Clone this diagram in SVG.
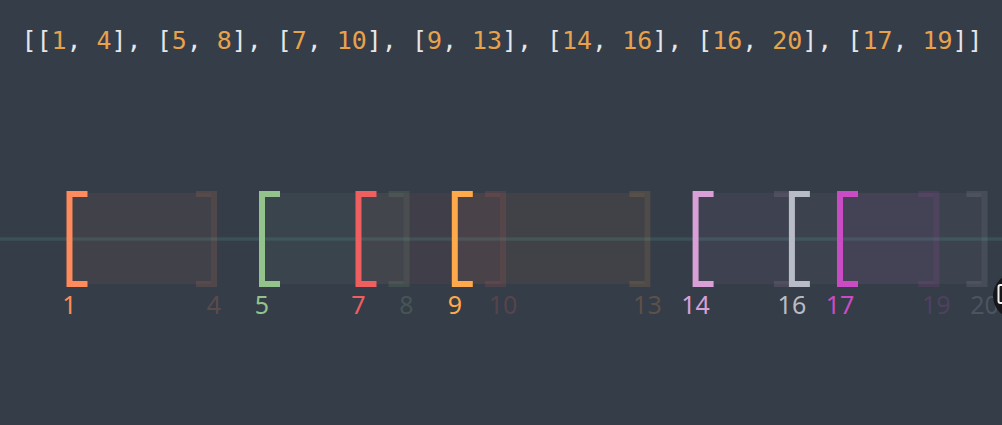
<svg xmlns="http://www.w3.org/2000/svg" width="1002" height="425" viewBox="0 0 1002 425">
<style>
.title{font-family:"DejaVu Sans Mono","Liberation Mono",monospace;font-size:24.95px;fill:#e4e6e8}
.num{fill:#e8a24c}
.lbl{font-family:"Noto Sans","Open Sans",sans-serif;font-size:25px;text-anchor:middle}
.lb{fill:none;stroke-width:6}
.rb{fill:none;stroke-width:6;stroke-opacity:0.13}
.band{fill-opacity:0.055}
.end{fill-opacity:0.2}
</style>
<rect width="1002" height="425" fill="#353d48"/>
<text class="title" x="21.5" y="48.5">[[<tspan class="num">1</tspan>, <tspan class="num">4</tspan>], [<tspan class="num">5</tspan>, <tspan class="num">8</tspan>], [<tspan class="num">7</tspan>, <tspan class="num">10</tspan>], [<tspan class="num">9</tspan>, <tspan class="num">13</tspan>], [<tspan class="num">14</tspan>, <tspan class="num">16</tspan>], [<tspan class="num">16</tspan>, <tspan class="num">20</tspan>], [<tspan class="num">17</tspan>, <tspan class="num">19</tspan>]]</text>
<g id="connectors">
<line x1="0" y1="239" x2="1002" y2="239" stroke="#3a5159" stroke-width="3.5"/>
</g>
<g id="iv1-4">
<rect class="band" x="72.5" y="193" width="138.5" height="91" fill="#ff8a5b"/>
<path class="lb" d="M87.5,194H69.5V284H87.5" stroke="#ff8a5b"/>
<path class="rb" d="M196,194H214V284H196" stroke="#ff8a5b"/>
<text class="lbl" x="69.5" y="313.5" fill="#ff8a5b">1</text>
<text class="lbl end" x="214" y="313.5" fill="#ff8a5b">4</text>
</g>
<g id="iv5-8">
<rect class="band" x="265" y="193" width="138.5" height="91" fill="#93c28d"/>
<path class="lb" d="M280,194H262V284H280" stroke="#93c28d"/>
<path class="rb" d="M388.5,194H406.5V284H388.5" stroke="#93c28d"/>
<text class="lbl" x="262" y="313.5" fill="#93c28d">5</text>
<text class="lbl end" x="406.5" y="313.5" fill="#93c28d">8</text>
</g>
<g id="iv7-10">
<rect class="band" x="361.5" y="193" width="138.5" height="91" fill="#ef5f5f"/>
<path class="lb" d="M376.5,194H358.5V284H376.5" stroke="#ef5f5f"/>
<path class="rb" d="M485,194H503V284H485" stroke="#ef5f5f"/>
<text class="lbl" x="358.5" y="313.5" fill="#ef5f5f">7</text>
<text class="lbl end" x="503" y="313.5" fill="#ef5f5f">10</text>
</g>
<g id="iv9-13">
<rect class="band" x="457.8" y="193" width="186.6" height="91" fill="#ffaa4a"/>
<path class="lb" d="M472.8,194H454.8V284H472.8" stroke="#ffaa4a"/>
<path class="rb" d="M629.4,194H647.4V284H629.4" stroke="#ffaa4a"/>
<text class="lbl" x="454.8" y="313.5" fill="#ffaa4a">9</text>
<text class="lbl end" x="647.4" y="313.5" fill="#ffaa4a">13</text>
</g>
<g id="iv14-16">
<rect class="band" x="698.6" y="193" width="90.3" height="91" fill="#d8a0d6"/>
<path class="lb" d="M713.6,194H695.6V284H713.6" stroke="#d8a0d6"/>
<path class="rb" d="M773.9,194H791.9V284H773.9" stroke="#d8a0d6"/>
<text class="lbl" x="695.6" y="313.5" fill="#d8a0d6">14</text>
</g>
<g id="iv16-20">
<rect class="band" x="794.9" y="193" width="186.6" height="91" fill="#b8bcc6"/>
<path class="lb" d="M809.9,194H791.9V284H809.9" stroke="#b8bcc6"/>
<path class="rb" d="M966.5,194H984.5V284H966.5" stroke="#b8bcc6"/>
<text class="lbl" x="791.9" y="313.5" fill="#b8bcc6">16</text>
<text class="lbl end" x="984.5" y="313.5" fill="#b8bcc6">20</text>
</g>
<g id="iv17-19">
<rect class="band" x="843" y="193" width="90.3" height="91" fill="#c94cc5"/>
<path class="lb" d="M858,194H840V284H858" stroke="#c94cc5"/>
<path class="rb" d="M918.3,194H936.3V284H918.3" stroke="#c94cc5"/>
<text class="lbl" x="840" y="313.5" fill="#c94cc5">17</text>
<text class="lbl end" x="936.3" y="313.5" fill="#c94cc5">19</text>
</g>
<g id="overlay-button">
<circle cx="1016" cy="296" r="23" fill="#15171a"/>
<rect x="998.5" y="285" width="10" height="18" rx="2" fill="none" stroke="#f2f2f2" stroke-width="2"/>
</g>
</svg>
